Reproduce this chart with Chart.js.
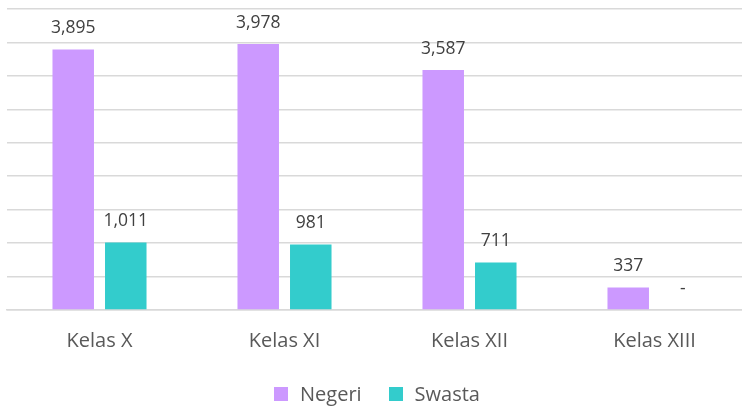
<!DOCTYPE html>
<html lang="id">
<head>
<meta charset="UTF-8">
<title>Jumlah Siswa per Kelas</title>
<script src="https://cdn.jsdelivr.net/npm/chart.js"></script>
<style>
  html, body { margin: 0; padding: 0; background: #fff; overflow: hidden; }
  #wrap { width: 750px; height: 407px; position: relative; }
  #legend {
    position: absolute; left: 274px; top: 380px;
    display: flex; align-items: center;
    font: 20px 'Open Sans', sans-serif; color: #595959;
  }
  #legend .item { display: flex; align-items: center; margin-right: 27px; }
  #legend .box { width: 14px; height: 14px; margin-right: 12px; }
</style>
</head>
<body>
<div id="wrap">
  <canvas id="chart"></canvas>
  <div id="legend"></div>
</div>
<script>
  // data
  const kelas = ['Kelas X', 'Kelas XI', 'Kelas XII', 'Kelas XIII'];
  const negeri = [3895, 3978, 3587, 337];
  const swasta = [1011, 981, 711, 0];

  const FONT = "'Open Sans', sans-serif";

  // value labels above each bar; zero shows as a dash
  const barLabels = {
    id: 'barLabels',
    afterDatasetsDraw(chart) {
      const ctx = chart.ctx;
      ctx.save();
      ctx.font = '17.5px ' + FONT;
      ctx.fillStyle = '#404040';
      ctx.textAlign = 'center';
      ctx.textBaseline = 'middle';
      chart.data.datasets.forEach((ds, i) => {
        chart.getDatasetMeta(i).data.forEach((bar, j) => {
          const v = ds.data[j];
          const txt = v === 0 ? '-' : v.toLocaleString('en-US');
          ctx.fillText(txt, bar.x + (v === 0 ? 2 : 0), bar.y - 21);
        });
      });
      ctx.restore();
    }
  };

  const chart = new Chart(document.getElementById('chart'), {
    type: 'bar',
    data: {
      labels: kelas,
      datasets: [
        { label: 'Negeri', data: negeri, backgroundColor: '#cc99ff' },
        { label: 'Swasta', data: swasta, backgroundColor: '#33cccc' }
      ]
    },
    options: {
      responsive: true,
      maintainAspectRatio: false,
      animation: false,
      categoryPercentage: 0.568,
      barPercentage: 0.79,
      layout: { padding: { left: 7, right: 3, top: 9, bottom: 43 } },
      scales: {
        x: {
          grid: { display: false },
          border: { color: '#d9d9d9', width: 1.5 },
          ticks: { font: { size: 20, family: FONT }, color: '#595959', padding: 11 }
        },
        y: {
          min: 0,
          max: 4500,
          ticks: { stepSize: 500, display: false },
          border: { display: false },
          grid: { color: '#d9d9d9', lineWidth: 1.5, drawTicks: false }
        }
      },
      plugins: {
        legend: { display: false },
        tooltip: { enabled: false }
      }
    },
    plugins: [barLabels]
  });

  // legend below the chart, built from the datasets
  const legendEl = document.getElementById('legend');
  chart.data.datasets.forEach(ds => {
    const item = document.createElement('div');
    item.className = 'item';
    const box = document.createElement('span');
    box.className = 'box';
    box.style.background = ds.backgroundColor;
    item.appendChild(box);
    item.appendChild(document.createTextNode(ds.label));
    legendEl.appendChild(item);
  });
</script>
</body>
</html>
